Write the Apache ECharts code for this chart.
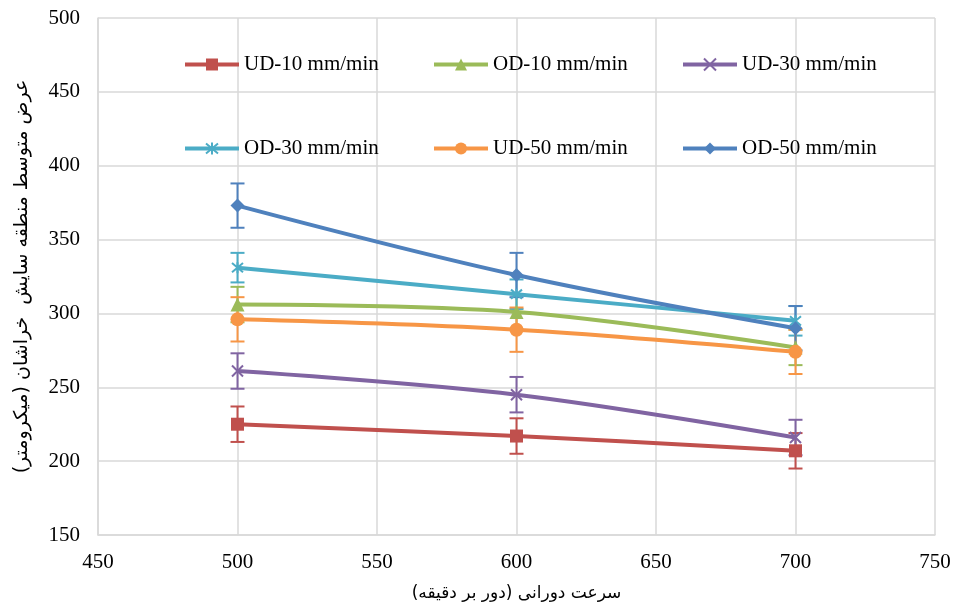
<!DOCTYPE html>
<html><head><meta charset="utf-8">
<script src="https://cdn.jsdelivr.net/npm/echarts@6/dist/echarts.min.js"></script>
<style>html,body{margin:0;padding:0;background:#fff}#c{width:955px;height:605px}</style>
</head><body><div id="c"></div>
<script>
// ---- data ----
const speeds = [500, 600, 700];
const seriesNames = ['UD-10 mm/min', 'OD-10 mm/min', 'UD-30 mm/min', 'OD-30 mm/min', 'UD-50 mm/min', 'OD-50 mm/min'];
const ud10 = [225, 217, 207];
const od10 = [306, 301, 277];
const ud30 = [261, 245, 216];
const od30 = [331, 313, 295];
const ud50 = [296, 289, 274];
const od50 = [373, 326, 290];
const ud10Err = [12, 12, 12];
const od10Err = [12, 12, 12];
const ud30Err = [12, 12, 12];
const od30Err = [10, 10, 10];
const ud50Err = [15, 15, 15];
const od50Err = [15, 15, 15];
const xTicks = [450, 500, 550, 600, 650, 700, 750];
const yTicks = [150, 200, 250, 300, 350, 400, 450, 500];
const xTitle = 'سرعت دورانی (دور بر دقیقه)';
const yTitle = 'عرض متوسط منطقه سایش  خراشان (میکرومتر)';

// ---- styling ----
const values = [ud10, od10, ud30, od30, ud50, od50];
const errors = [ud10Err, od10Err, ud30Err, od30Err, ud50Err, od50Err];
const colors = ['#C0504D', '#9BBB59', '#8064A2', '#4BACC6', '#F79646', '#4F81BD'];
const xPath = 'path://M0,0 L10,10 M10,0 L0,10';
const starPath = 'path://M0,0 L10,10 M10,0 L0,10 M5,-1 L5,11';
const symbols = ['rect', 'triangle', xPath, starPath, 'circle', 'diamond'];
const symSizes = [13, 14, 11, 11, 14, 14];
const serif = '"Liberation Serif", "DejaVu Serif", serif';
const persian = '"DejaVu Sans", "Noto Sans", sans-serif';

const chart = echarts.init(document.getElementById('c'), null, {renderer: 'canvas'});

const series = [];
values.forEach((vals, i) => {
  const col = colors[i];
  const isPath = symbols[i].startsWith('path://');
  series.push({
    type: 'custom',
    name: seriesNames[i] + ' err',
    z: 2 + i,
    data: speeds.map((x, k) => [x, vals[k] - errors[i][k], vals[k] + errors[i][k]]),
    renderItem: function (params, api) {
      const x = api.value(0);
      const lo = api.coord([x, api.value(1)]);
      const hi = api.coord([x, api.value(2)]);
      const hw = 7;
      const st = {stroke: col, lineWidth: 2};
      return {
        type: 'group',
        children: [
          {type: 'line', shape: {x1: lo[0], y1: lo[1], x2: hi[0], y2: hi[1]}, style: st},
          {type: 'line', shape: {x1: lo[0] - hw, y1: lo[1], x2: lo[0] + hw, y2: lo[1]}, style: st},
          {type: 'line', shape: {x1: hi[0] - hw, y1: hi[1], x2: hi[0] + hw, y2: hi[1]}, style: st}
        ]
      };
    },
    encode: {x: 0, y: [1, 2]},
    silent: true
  });
  series.push({
    type: 'line',
    name: seriesNames[i],
    z: 10 + i,
    data: speeds.map((x, k) => [x, vals[k]]),
    smooth: 0.35,
    symbol: symbols[i],
    symbolSize: symSizes[i],
    showAllSymbol: true,
    lineStyle: {color: col, width: 4},
    itemStyle: isPath ? {color: col, borderColor: col, borderWidth: 2} : {color: col, borderWidth: 0},
    emphasis: {disabled: true},
    animation: false
  });
});

const legendLeft = [183, 432, 681];
const legendTop = [54, 138];
const legends = seriesNames.map((n, i) => ({
  data: [n],
  left: legendLeft[i % 3],
  top: legendTop[Math.floor(i / 3)],
  itemWidth: 54,
  itemHeight: 15,
  padding: 0,
  selectedMode: false,
  lineStyle: {width: 4},
  textStyle: {fontFamily: serif, fontSize: 21, color: '#000'}
}));

chart.setOption({
  animation: false,
  backgroundColor: '#fff',
  color: colors,
  grid: {left: 98, right: 20, top: 18, bottom: 70, containLabel: false, outerBoundsMode: 'none'},
  legend: legends,
  xAxis: {
    type: 'value', min: xTicks[0], max: xTicks[xTicks.length - 1], interval: 50,
    name: xTitle, nameLocation: 'middle', nameGap: 50,
    nameTextStyle: {fontFamily: persian, fontSize: 17, color: '#000'},
    axisLine: {show: true, lineStyle: {color: '#d9d9d9', width: 1.5}},
    axisTick: {show: false},
    axisLabel: {fontFamily: serif, fontSize: 21, color: '#000', margin: 17},
    splitLine: {show: true, lineStyle: {color: '#d9d9d9', width: 1.5}}
  },
  yAxis: {
    type: 'value', min: yTicks[0], max: yTicks[yTicks.length - 1], interval: 50,
    name: yTitle, nameLocation: 'middle', nameGap: 66, nameRotate: 90,
    nameTextStyle: {fontFamily: persian, fontSize: 19, color: '#000'},
    axisLine: {show: true, lineStyle: {color: '#d9d9d9', width: 1.5}},
    axisTick: {show: false},
    axisLabel: {fontFamily: serif, fontSize: 21, color: '#000', margin: 18},
    splitLine: {show: true, lineStyle: {color: '#d9d9d9', width: 1.5}}
  },
  series: series
});
</script>
</body></html>
